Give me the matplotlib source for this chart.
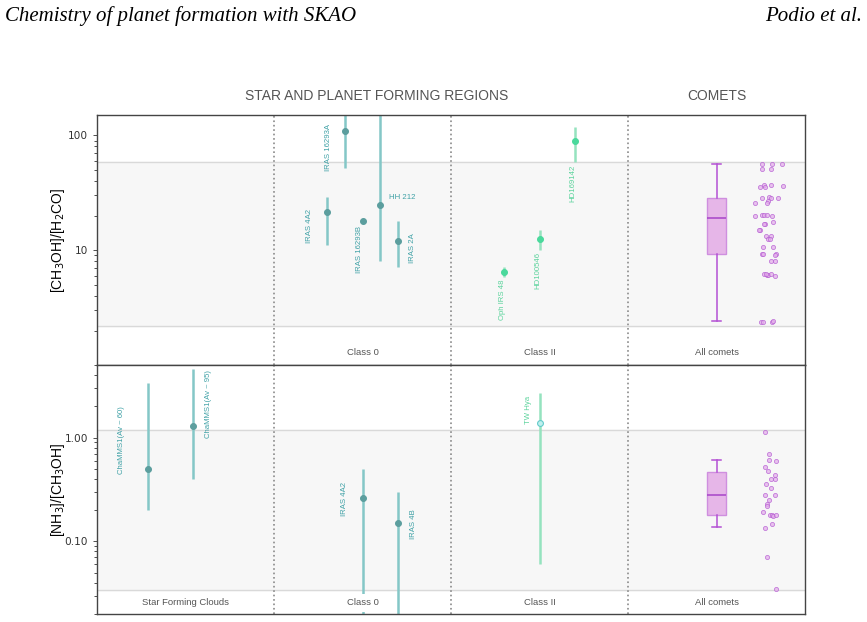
import numpy as np
import matplotlib
matplotlib.use("Agg")
import matplotlib.pyplot as plt

# ---- data ----
# top panel: [CH3OH]/[H2CO]
c0_names = ["IRAS 4A2", "IRAS 16293A", "IRAS 16293B", "HH 212", "IRAS 2A"]
c0_x = [1.30, 1.40, 1.50, 1.60, 1.70]
c0_val = [21.3, 108.0, 18.1, 24.9, 12.1]
c0_lo = [11.0, 52.4, 18.1, 7.98, 7.08]
c0_hi = [29.3, 300.0, 18.1, 300.0, 18.1]

c2_names = ["Oph IRS 48", "HD100546", "HD169142"]
c2_x = [2.30, 2.50, 2.70]
c2_val = [6.4, 12.6, 90.0]
c2_lo = [5.9, 10.1, 59.0]
c2_hi = [7.1, 15.1, 119.0]

com1_stats = dict(med=18.9, q1=9.35, q3=28.2, whislo=2.4, whishi=56.8)
com1_x = [3.755, 3.814, 3.870, 3.755, 3.808,
          3.746, 3.768, 3.774, 3.808, 3.876,
          3.755, 3.797, 3.808, 3.791, 3.785, 3.847, 3.718,
          3.718, 3.755, 3.768, 3.785, 3.814,
          3.819, 3.774, 3.768, 3.746, 3.740,
          3.778, 3.806, 3.791, 3.802,
          3.761, 3.819,
          3.757, 3.763, 3.834, 3.829,
          3.806, 3.831,
          3.768, 3.785, 3.791, 3.806, 3.831, 3.778,
          3.750, 3.763, 3.815, 3.821]
com1_y = [56.8, 56.8, 56.0, 51.4, 51.4,
          35.3, 37.3, 35.8, 37.3, 36.5,
          28.2, 28.9, 28.7, 26.7, 25.5, 28.2, 25.5,
          19.8, 20.4, 20.4, 20.1, 19.8,
          17.5, 16.8, 16.8, 15.1, 15.1,
          13.4, 13.4, 12.4, 12.4,
          10.7, 10.7,
          9.18, 9.36, 9.3, 9.05,
          7.98, 7.98,
          6.24, 6.03, 6.11, 6.27, 5.94, 6.24,
          2.35, 2.38, 2.36, 2.40]

# bottom panel: [NH3]/[CH3OH]
sfc_names = ["ChaMMS1(Av ~ 60)", "ChaMMS1(Av ~ 95)"]
sfc_x = [0.29, 0.54]
sfc_val = [0.50, 1.30]
sfc_lo = [0.20, 0.40]
sfc_hi = [3.35, 4.55]

b0_names = ["IRAS 4A2", "IRAS 4B"]
b0_x = [1.50, 1.70]
b0_val = [0.26, 0.15]
b0_lo = [0.012, 0.01]
b0_hi = [0.50, 0.30]

tw_name = "TW Hya"
tw_x = 2.50
tw_val = 1.39
tw_lo = 0.061
tw_hi = 2.68

com2_stats = dict(med=0.277, q1=0.18, q3=0.47, whislo=0.137, whishi=0.61)
com2_x = [3.774, 3.797, 3.797, 3.836, 3.774, 3.791, 3.831, 3.808, 3.831,
          3.780, 3.808, 3.774, 3.831, 3.797, 3.785, 3.785, 3.763, 3.802,
          3.814, 3.819, 3.836, 3.814, 3.774, 3.785, 3.836]
com2_y = [1.14, 0.70, 0.61, 0.60, 0.52, 0.48, 0.44, 0.40, 0.40,
          0.36, 0.33, 0.28, 0.28, 0.25, 0.23, 0.22, 0.19, 0.18,
          0.178, 0.174, 0.18, 0.147, 0.134, 0.071, 0.035]

top_band = (2.2, 58.0)
bot_band = (0.034, 1.19)

col_labels_top = ["", "Class 0", "Class II", "All comets"]
col_labels_bot = ["Star Forming Clouds", "Class 0", "Class II", "All comets"]

# ---- colours ----
teal_line = "#84c7c7"
teal_dot = "#5c9e9e"
teal_txt = "#3fa1a6"
mint_line = "#95e3bf"
mint_dot = "#4ad99c"
mint_txt = "#5bd39c"
purp_edge = "#b45bd2"
purp_face = "#e6b6e8"
grey_txt = "#555555"

sans = ["Liberation Sans", "DejaVu Sans"]

fig = plt.figure(figsize=(8.67, 6.22), dpi=100)
ax1 = fig.add_axes([0.112, 0.413, 0.8165, 0.402])
ax2 = fig.add_axes([0.112, 0.013, 0.8165, 0.400])

for ax in (ax1, ax2):
    ax.set_yscale("log")
    ax.set_xlim(0, 4)
    ax.set_xticks([])
    for s in ax.spines.values():
        s.set_color("#444444")
        s.set_linewidth(1.0)
    for xv in (1, 2, 3):
        ax.axvline(xv, color="#8a8a8a", ls=":", lw=1.2, zorder=1)
    ax.tick_params(axis="y", which="both", labelsize=7.6, colors="#333333",
                   length=3, width=0.6)
    ax.tick_params(axis="y", which="minor", length=2)

ax1.set_ylim(1, 150)
ax2.set_ylim(0.02, 5)


def band(ax, lo, hi):
    ax.axhspan(lo, hi, color="#f7f7f7", zorder=0)
    ax.axhline(lo, color="#d9d9d9", lw=1, zorder=0.5)
    ax.axhline(hi, color="#d9d9d9", lw=1, zorder=0.5)


band(ax1, *top_band)
band(ax2, *bot_band)


def sources(ax, xs, vals, los, his, lc, mc, mec=None, mfc=None):
    v = np.array(vals)
    err = [v - np.array(los), np.array(his) - v]
    ax.errorbar(xs, v, yerr=err, fmt="none", ecolor=lc, elinewidth=1.8,
                capsize=0, zorder=1.6)
    ax.plot(xs, v, "o", ms=4.2, mfc=mfc or mc, mec=mec or mc, mew=0.8,
            zorder=1.7, ls="none")


sources(ax1, c0_x, c0_val, c0_lo, c0_hi, teal_line, teal_dot)
sources(ax1, c2_x, c2_val, c2_lo, c2_hi, mint_line, mint_dot)
sources(ax2, sfc_x, sfc_val, sfc_lo, sfc_hi, teal_line, teal_dot)
sources(ax2, b0_x, b0_val, b0_lo, b0_hi, teal_line, teal_dot)
sources(ax2, [tw_x], [tw_val], [tw_lo], [tw_hi], mint_line, "#5cc9c9",
        mec="#62caca", mfc="#bff0ee")

# source labels
lab = dict(fontsize=5.6, family=sans, zorder=3)
ax1.text(c0_x[0] - 0.10, 16.3, c0_names[0], rotation=90, color=teal_txt,
         ha="center", va="center", **lab)
ax1.text(c0_x[1] - 0.09, 78, c0_names[1], rotation=90, color=teal_txt,
         ha="center", va="center", **lab)
ax1.text(c0_x[2] - 0.02, 10.2, c0_names[2], rotation=90, color=teal_txt,
         ha="center", va="center", **lab)
ax1.text(c0_x[3] + 0.05, 28.5, c0_names[3], color=teal_txt,
         ha="left", va="center", **lab)
ax1.text(c0_x[4] + 0.08, 10.4, c0_names[4], rotation=90, color=teal_txt,
         ha="center", va="center", **lab)
for x, lo, name in zip(c2_x, c2_lo, c2_names):
    ax1.text(x - 0.01, lo * 0.95, name, rotation=90, color=mint_txt,
             ha="center", va="top", **lab)

ax2.text(sfc_x[0] - 0.15, 0.95, sfc_names[0], rotation=90, color=teal_txt,
         ha="center", va="center", **lab)
ax2.text(sfc_x[1] + 0.09, 2.1, sfc_names[1], rotation=90, color=teal_txt,
         ha="center", va="center", **lab)
ax2.text(b0_x[0] - 0.10, 0.255, b0_names[0], rotation=90, color=teal_txt,
         ha="center", va="center", **lab)
ax2.text(b0_x[1] + 0.09, 0.147, b0_names[1], rotation=90, color=teal_txt,
         ha="center", va="center", **lab)
ax2.text(tw_x - 0.06, 1.85, tw_name, rotation=90, color=mint_txt,
         ha="center", va="center", **lab)

# comets
for ax, st, xs, ys in ((ax1, com1_stats, com1_x, com1_y),
                       (ax2, com2_stats, com2_x, com2_y)):
    ax.bxp([st], positions=[3.5], widths=0.105, showfliers=False,
           patch_artist=True, zorder=2,
           boxprops=dict(facecolor=purp_face, edgecolor="#cf8fdf", lw=1),
           medianprops=dict(color="#a744c8", lw=1.1),
           whiskerprops=dict(color="#b450d4", lw=1.1),
           capprops=dict(color="#b450d4", lw=1.1), capwidths=0.055)
    ax.scatter(xs, ys, s=9, facecolor="#e4b0ea", edgecolor=purp_edge,
               linewidth=0.6, alpha=0.75, zorder=2.2)
    ax.set_xlim(0, 4)
    ax.set_xticks([])

# column labels
for ax, labels, yv in ((ax1, col_labels_top, 1.28), (ax2, col_labels_bot, 0.0255)):
    for i, t in enumerate(labels):
        if t:
            ax.text(i + 0.5, yv, t, ha="center", va="center", fontsize=6.8,
                    color=grey_txt, family=sans, zorder=2.0,
                    bbox=dict(boxstyle="square,pad=0.5", fc="white", ec="none"))

ax1.set_yticks([10, 100])
ax1.set_yticklabels(["10", "100"])
ax2.set_yticks([0.1, 1.0])
ax2.set_yticklabels(["0.10", "1.00"])

ax1.set_ylabel("[CH$_3$OH]/[H$_2$CO]", fontsize=10, family=sans)
ax2.set_ylabel("[NH$_3$]/[CH$_3$OH]", fontsize=10, family=sans)
ax1.yaxis.set_label_coords(-0.043, 0.5)
ax2.yaxis.set_label_coords(-0.043, 0.5)

narrow = ["Liberation Sans Narrow", "Liberation Sans", "DejaVu Sans"]
ax1.text(1.58, 1.0 + 0.075, "STAR AND PLANET FORMING REGIONS", transform=ax1.get_xaxis_transform(),
         ha="center", va="center", fontsize=10, color=grey_txt, family=narrow)
ax1.text(3.5, 1.0 + 0.075, "COMETS", transform=ax1.get_xaxis_transform(),
         ha="center", va="center", fontsize=10, color=grey_txt, family=narrow)

serif = ["Liberation Serif", "DejaVu Serif"]
fig.text(0.006, 0.974, "Chemistry of planet formation with SKAO", ha="left", va="center",
         fontsize=15, style="italic", family=serif)
fig.text(0.994, 0.974, "Podio et al.", ha="right", va="center",
         fontsize=15, style="italic", family=serif)

fig.savefig("out.png", dpi=100)
